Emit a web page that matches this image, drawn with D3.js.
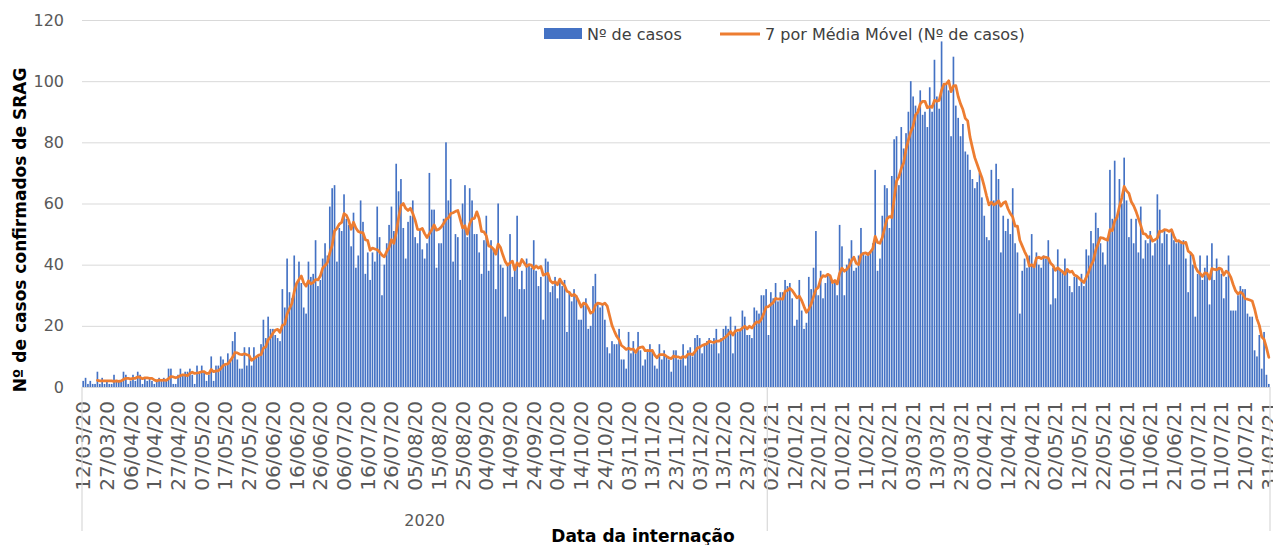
<!DOCTYPE html>
<html lang="pt-BR">
<head>
<meta charset="utf-8">
<title>Casos confirmados de SRAG</title>
<script src="https://cdn.jsdelivr.net/npm/d3@7"></script>
<style>
    html, body { margin: 0; padding: 0; background: #ffffff; }
    svg { display: block; font-family: "DejaVu Sans", sans-serif; }
</style>
</head>
<body>
<div id="chart"></div>
<script>
// Categories: one per admission day, a few early days have no record
const firstDay = "2020-03-12";
const lastDay = "2021-07-31";
const missingDays = ["2020-03-13", "2020-03-14", "2020-03-15", "2020-03-21", "2020-03-22", "2020-04-12"];

// Nº de casos per day (one row per 10 categories)
const casos = [
    2, 3, 1, 2, 1, 1, 5, 1, 3, 1,
    2, 1, 1, 4, 2, 2, 2, 5, 4, 1,
    2, 4, 2, 5, 4, 1, 3, 2, 3, 2,
    1, 2, 3, 2, 3, 2, 6, 6, 1, 1,
    4, 6, 4, 5, 5, 6, 4, 1, 7, 5,
    7, 5, 2, 4, 10, 2, 7, 7, 10, 9,
    7, 11, 9, 15, 18, 9, 6, 6, 13, 7,
    13, 7, 13, 10, 10, 14, 22, 16, 23, 19,
    19, 17, 16, 15, 32, 26, 42, 31, 29, 43,
    34, 41, 34, 26, 24, 41, 36, 37, 48, 33,
    35, 42, 47, 43, 59, 65, 66, 41, 52, 51,
    63, 55, 53, 46, 57, 39, 43, 61, 54, 37,
    44, 35, 44, 41, 59, 49, 30, 40, 47, 53,
    59, 51, 73, 64, 68, 52, 42, 54, 56, 61,
    49, 47, 51, 45, 42, 47, 70, 58, 58, 39,
    47, 47, 55, 80, 61, 68, 41, 50, 49, 35,
    60, 66, 49, 65, 61, 50, 50, 44, 37, 48,
    56, 38, 48, 45, 32, 60, 40, 39, 23, 40,
    50, 36, 40, 56, 32, 38, 32, 42, 40, 39,
    48, 38, 33, 36, 22, 42, 41, 31, 33, 36,
    29, 35, 33, 35, 18, 31, 28, 32, 30, 22,
    22, 27, 29, 19, 20, 33, 37, 27, 26, 27,
    22, 13, 11, 15, 14, 14, 19, 9, 9, 6,
    18, 11, 15, 11, 18, 12, 7, 9, 12, 14,
    12, 7, 6, 14, 9, 12, 10, 9, 5, 12,
    12, 9, 9, 14, 7, 12, 13, 10, 16, 17,
    16, 11, 14, 15, 16, 14, 16, 19, 11, 16,
    19, 20, 19, 23, 11, 20, 18, 19, 25, 23,
    17, 17, 16, 26, 25, 24, 30, 30, 32, 17,
    31, 29, 34, 28, 31, 31, 35, 33, 34, 29,
    20, 22, 35, 25, 19, 21, 36, 32, 39, 51,
    30, 38, 29, 34, 37, 36, 35, 35, 30, 53,
    46, 30, 40, 42, 48, 38, 39, 43, 52, 44,
    43, 44, 44, 47, 71, 38, 42, 56, 66, 65,
    52, 69, 81, 82, 66, 85, 78, 83, 90, 100,
    95, 92, 91, 97, 89, 90, 85, 98, 90, 107,
    95, 91, 113, 99, 99, 97, 82, 108, 92, 88,
    82, 86, 77, 76, 71, 68, 65, 67, 70, 62,
    56, 49, 48, 71, 61, 73, 68, 44, 56, 51,
    55, 50, 65, 47, 44, 24, 38, 42, 39, 43,
    50, 39, 44, 40, 39, 43, 42, 48, 27, 39,
    29, 45, 38, 38, 42, 38, 33, 31, 36, 36,
    33, 37, 33, 45, 43, 51, 47, 57, 52, 47,
    44, 40, 49, 71, 55, 74, 56, 68, 60, 75,
    61, 49, 55, 47, 55, 44, 59, 42, 48, 47,
    51, 43, 47, 63, 58, 47, 51, 50, 40, 51,
    48, 47, 48, 47, 48, 42, 31, 44, 40, 23,
    37, 43, 35, 39, 43, 27, 47, 35, 42, 39,
    37, 29, 36, 43, 25, 25, 25, 30, 33, 32,
    32, 24, 23, 23, 12, 10, 17, 6, 18, 4,
    1
];

const yTicks = [0, 20, 40, 60, 80, 100, 120];
const seriesNames = ["Nº de casos", "7 por Média Móvel (Nº de casos)"];
const movingPeriod = 7;
const labelEvery = 10;

const COLORS = { BAR: "#4472C4", LINE: "#ED7D31", GRID: "#D9D9D9", TICK: "#595959", TEXT: "#404040" };

const WIDTH = 1273;
const HEIGHT = 545;
const PLOT = { LEFT: 82, RIGHT: 1270, TOP: 20, BOTTOM: 387 };

const parseDay = d3.timeParse("%Y-%m-%d");
const dayKey = d3.timeFormat("%Y-%m-%d");
const dayLabel = d3.timeFormat("%d/%m/%y");

const days = d3.timeDay
    .range(parseDay(firstDay), d3.timeDay.offset(parseDay(lastDay), 1))
    .filter(d => !missingDays.includes(dayKey(d)));

const data = days.map((d, i) => ({ idx: i, date: d, value: casos[i] }));

// Excel style trailing moving average
const movingAvg = data.slice(movingPeriod - 1).map((d, k) => ({
    idx: d.idx,
    value: d3.mean(casos.slice(k, k + movingPeriod))
}));

const svg = d3.select("#chart").append("svg")
    .attr("width", WIDTH)
    .attr("height", HEIGHT);

const x = d3.scaleBand()
    .domain(data.map(d => d.idx))
    .range([PLOT.LEFT, PLOT.RIGHT])
    .paddingInner(0.3)
    .paddingOuter(0.15);

const y = d3.scaleLinear()
    .domain([0, 120])
    .range([PLOT.BOTTOM, PLOT.TOP]);

const xc = i => x(i) + x.bandwidth() / 2;

// gridlines
const grid = svg.append("g")
    .attr("transform", `translate(${PLOT.LEFT}, 0)`)
    .call(d3.axisLeft(y).tickValues(yTicks).tickSize(-(PLOT.RIGHT - PLOT.LEFT)).tickFormat(""));
grid.select(".domain").remove();
grid.selectAll("line").attr("stroke", COLORS.GRID).attr("stroke-width", 1);

// y axis labels
const yAxis = svg.append("g")
    .attr("transform", `translate(${PLOT.LEFT}, 0)`)
    .call(d3.axisLeft(y).tickValues(yTicks).tickSize(0).tickPadding(18));
yAxis.select(".domain").remove();
yAxis.selectAll("text")
    .attr("fill", COLORS.TICK)
    .style("font-size", "16px")
    .style("font-family", "DejaVu Sans, sans-serif");

// bars
svg.append("g").selectAll("rect")
    .data(data)
    .join("rect")
    .attr("x", d => x(d.idx))
    .attr("y", d => y(d.value))
    .attr("width", x.bandwidth())
    .attr("height", d => y(0) - y(d.value))
    .attr("fill", COLORS.BAR);

// moving average line
svg.append("path")
    .datum(movingAvg)
    .attr("fill", "none")
    .attr("stroke", COLORS.LINE)
    .attr("stroke-width", 2.75)
    .attr("stroke-linejoin", "round")
    .attr("stroke-linecap", "round")
    .attr("d", d3.line().x(d => xc(d.idx)).y(d => y(d.value)));

// x axis with rotated date labels
const xAxis = svg.append("g")
    .attr("transform", `translate(0, ${PLOT.BOTTOM})`)
    .call(d3.axisBottom(x)
        .tickValues(d3.range(0, data.length, labelEvery))
        .tickFormat(i => dayLabel(days[i]))
        .tickSize(0));
xAxis.select(".domain")
    .attr("stroke", COLORS.GRID)
    .attr("d", `M${PLOT.LEFT},0.5H${PLOT.RIGHT}`);
xAxis.selectAll("text")
    .attr("transform", "rotate(-90)")
    .attr("x", -14)
    .attr("y", 0)
    .attr("dy", "0.35em")
    .attr("fill", COLORS.TICK)
    .style("text-anchor", "end")
    .style("font-size", "20px")
    .style("font-family", "DejaVu Sans, sans-serif");

// year grouping level under the dates
const firstOf2021 = data.findIndex(d => d.date.getFullYear() === 2021);
const yearEdges = [x(0) - x.step() * x.paddingOuter(), x(firstOf2021) - x.step() * x.paddingInner() / 2, PLOT.RIGHT];
svg.append("g").selectAll("line")
    .data(yearEdges)
    .join("line")
    .attr("x1", d => d)
    .attr("x2", d => d)
    .attr("y1", PLOT.BOTTOM)
    .attr("y2", 531)
    .attr("stroke", COLORS.GRID)
    .attr("stroke-width", 1.2);

svg.append("text")
    .attr("x", (yearEdges[0] + yearEdges[1]) / 2)
    .attr("y", 526)
    .attr("text-anchor", "middle")
    .attr("fill", COLORS.TICK)
    .style("font-size", "16px")
    .text("2020");

// axis titles
svg.append("text")
    .attr("x", 643)
    .attr("y", 542)
    .attr("text-anchor", "middle")
    .attr("fill", "#000")
    .style("font-size", "17px")
    .style("font-weight", "bold")
    .text("Data da internação");

svg.append("text")
    .attr("transform", "rotate(-90)")
    .attr("x", -230)
    .attr("y", 26)
    .attr("text-anchor", "middle")
    .attr("fill", "#000")
    .style("font-size", "17px")
    .style("font-weight", "bold")
    .text("Nº de casos confirmados de SRAG");

// legend
const legend = svg.append("g");
legend.append("rect")
    .attr("x", 544)
    .attr("y", 28)
    .attr("width", 38)
    .attr("height", 11)
    .attr("fill", COLORS.BAR);
legend.append("text")
    .attr("x", 587)
    .attr("y", 40)
    .attr("fill", COLORS.TEXT)
    .style("font-size", "16px")
    .text(seriesNames[0]);
legend.append("line")
    .attr("x1", 720)
    .attr("x2", 760)
    .attr("y1", 34)
    .attr("y2", 34)
    .attr("stroke", COLORS.LINE)
    .attr("stroke-width", 3);
legend.append("text")
    .attr("x", 765)
    .attr("y", 40)
    .attr("fill", COLORS.TEXT)
    .style("font-size", "16px")
    .text(seriesNames[1]);
</script>
</body>
</html>
